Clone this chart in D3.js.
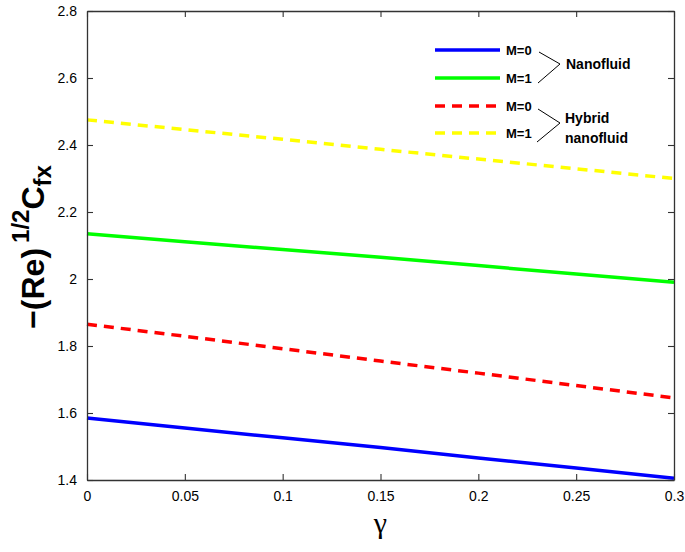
<!DOCTYPE html>
<html>
<head>
<meta charset="utf-8">
<script src="https://cdn.jsdelivr.net/npm/d3@7"></script>
<style>
  body { margin: 0; background: #fff; }
  svg text { font-family: "Liberation Sans", Arial, sans-serif; }
</style>
</head>
<body>
<script>
// gamma values along x
var gammaVals = [0, 0.05, 0.1, 0.15, 0.2, 0.25, 0.3];

// skin friction for each case
var nanoM0   = [1.585, 1.555, 1.526, 1.497, 1.466, 1.436, 1.405];
var nanoM1   = [2.135, 2.111, 2.088, 2.065, 2.040, 2.015, 1.990];
var hybridM0 = [1.865, 1.829, 1.792, 1.755, 1.719, 1.682, 1.645];
var hybridM1 = [2.475, 2.446, 2.417, 2.387, 2.358, 2.329, 2.300];

var xTicks = [0, 0.05, 0.1, 0.15, 0.2, 0.25, 0.3];
var yTicks = [1.4, 1.6, 1.8, 2, 2.2, 2.4, 2.6, 2.8];

var series = [
  { name: "M=0", vals: nanoM0,   color: "#0000ff", dash: null },
  { name: "M=1", vals: nanoM1,   color: "#00ff00", dash: null },
  { name: "M=0", vals: hybridM0, color: "#ff0000", dash: "10,7" },
  { name: "M=1", vals: hybridM1, color: "#ffff00", dash: "10,7" }
];

var W = 685, H = 552;
var plotL = 87, plotR = 674, plotT = 11, plotB = 480;

var svg = d3.select("body").append("svg")
  .attr("width", W).attr("height", H);

var x = d3.scaleLinear().domain([0, 0.3]).range([plotL, plotR]);
var y = d3.scaleLinear().domain([1.4, 2.8]).range([plotB, plotT]);

// lines first so the frame sits on top
var line = d3.line()
  .x(function (d, i) { return x(gammaVals[i]); })
  .y(function (d) { return y(d); });

svg.selectAll("path.curve")
  .data(series)
  .enter()
  .append("path")
  .attr("class", "curve")
  .attr("d", function (d) { return line(d.vals); })
  .attr("fill", "none")
  .attr("stroke", function (d) { return d.color; })
  .attr("stroke-width", 3.5)
  .attr("stroke-dasharray", function (d) { return d.dash; });

// axes with inward ticks
function styleAxis(g) {
  g.select(".domain").attr("stroke", "#333").attr("stroke-width", 1.3);
  g.selectAll(".tick line").attr("stroke", "#333").attr("stroke-width", 1.1);
  g.selectAll(".tick text").attr("fill", "#000").attr("font-size", 14)
    .attr("font-family", "Liberation Sans, Arial, sans-serif");
}

var fmt = function (d) { return String(d); };

var xAxis = svg.append("g").attr("transform", "translate(0," + plotB + ")")
  .call(d3.axisBottom(x).tickValues(xTicks).tickFormat(fmt)
    .tickSizeInner(-6).tickSizeOuter(0).tickPadding(11));
styleAxis(xAxis);

var xAxisTop = svg.append("g").attr("transform", "translate(0," + plotT + ")")
  .call(d3.axisTop(x).tickValues(xTicks).tickFormat("")
    .tickSizeInner(-6).tickSizeOuter(0));
styleAxis(xAxisTop);

var yAxis = svg.append("g").attr("transform", "translate(" + plotL + ",0)")
  .call(d3.axisLeft(y).tickValues(yTicks).tickFormat(fmt)
    .tickSizeInner(-6).tickSizeOuter(0).tickPadding(10));
styleAxis(yAxis);

var yAxisRight = svg.append("g").attr("transform", "translate(" + plotR + ",0)")
  .call(d3.axisRight(y).tickValues(yTicks).tickFormat("")
    .tickSizeInner(-6).tickSizeOuter(0));
styleAxis(yAxisRight);

// axis titles
svg.append("text")
  .attr("x", (plotL + plotR) / 2)
  .attr("y", 533)
  .attr("text-anchor", "middle")
  .attr("font-size", 30)
  .style("font-family", "Liberation Serif, serif")
  .text("\u03b3");

var yl = svg.append("text")
  .attr("transform", "translate(44,247) rotate(-90)")
  .attr("text-anchor", "middle")
  .attr("font-size", 32)
  .attr("font-weight", "bold");
yl.append("tspan").text("\u2212(Re)");
yl.append("tspan").attr("font-size", 24).attr("dy", -15).attr("dx", 5).text("1/2");
yl.append("tspan").attr("dy", 15).text("C");
yl.append("tspan").attr("font-size", 24).attr("dy", 7).text("fx");

// legend
var legY = [50, 78, 106, 133];
var leg = svg.selectAll("g.leg")
  .data(series)
  .enter()
  .append("g")
  .attr("class", "leg")
  .attr("transform", function (d, i) { return "translate(0," + legY[i] + ")"; });

leg.append("line")
  .attr("x1", 435).attr("x2", 500)
  .attr("stroke", function (d) { return d.color; })
  .attr("stroke-width", 3.5)
  .attr("stroke-dasharray", function (d) { return d.dash; });

leg.append("text")
  .attr("x", 506).attr("y", 5)
  .attr("font-size", 13).attr("font-weight", "bold")
  .text(function (d) { return d.name; });

// brackets grouping the cases
svg.append("polyline")
  .attr("points", "539,52 560,64 538,83")
  .attr("fill", "none").attr("stroke", "#000").attr("stroke-width", 1);
svg.append("polyline")
  .attr("points", "538,109 560,123 537,142")
  .attr("fill", "none").attr("stroke", "#000").attr("stroke-width", 1);

svg.append("text").attr("x", 566).attr("y", 69)
  .attr("font-size", 14).attr("font-weight", "bold").text("Nanofluid");
svg.append("text").attr("x", 565).attr("y", 123)
  .attr("font-size", 14).attr("font-weight", "bold").text("Hybrid");
svg.append("text").attr("x", 565).attr("y", 143)
  .attr("font-size", 14).attr("font-weight", "bold").text("nanofluid");
</script>
</body>
</html>
